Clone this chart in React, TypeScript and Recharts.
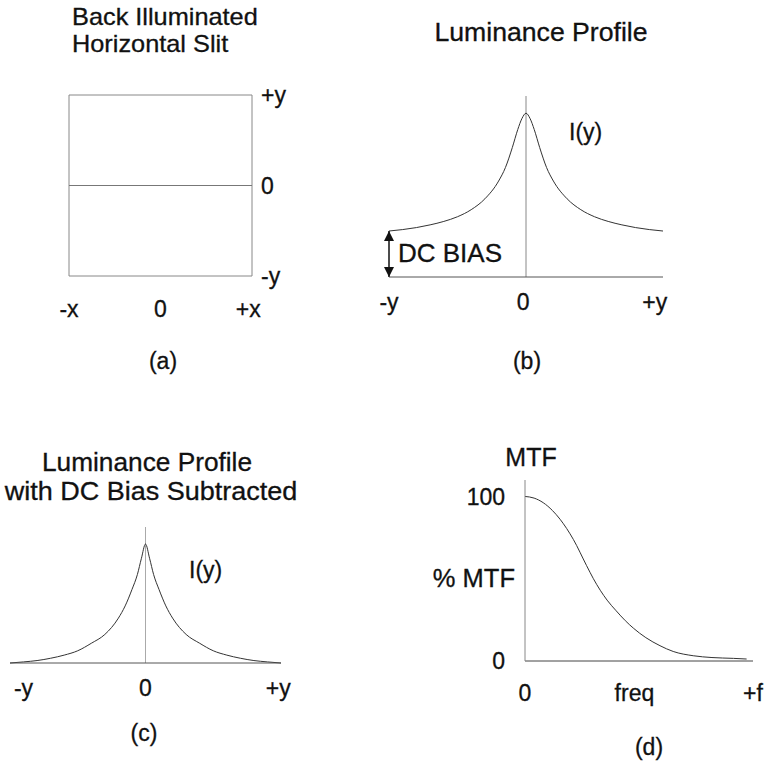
import React from 'react';
import {
  LineChart, Line, XAxis, YAxis, ReferenceLine, ReferenceArea, ReferenceDot,
} from 'recharts';

// ---------- data ----------
// (a) horizontal slit
const slitX = [-1, 1];
const slitY = [0, 0];
const aXTicks = [-1, 0, 0.96];
const aXLabels = ['-x', '0', '+x'];
const aYTicks = [-1, 0, 1];
const aYLabels = ['-y', '0', '+y'];

// (b) luminance profile with DC bias
const bX = [-1, -0.9, -0.8, -0.7, -0.6, -0.5, -0.4, -0.3, -0.2, -0.15, -0.1, -0.06, -0.03, 0,
  0.03, 0.06, 0.1, 0.15, 0.2, 0.3, 0.4, 0.5, 0.6, 0.7, 0.8, 0.9, 1];
const bY = [0.254, 0.262, 0.273, 0.288, 0.307, 0.333, 0.372, 0.432, 0.53, 0.605, 0.715, 0.815, 0.875, 0.905,
  0.875, 0.815, 0.715, 0.605, 0.53, 0.432, 0.372, 0.333, 0.307, 0.288, 0.273, 0.262, 0.254];
const dcBias = 0.254;
const bTicks = [-1, -0.02, 0.94];
const bLabels = ['-y', '0', '+y'];

// (c) luminance profile with DC bias subtracted
const cX = bX;
const cY = [0, 0.008, 0.018, 0.035, 0.058, 0.09, 0.145, 0.21, 0.33, 0.42, 0.54, 0.65, 0.77, 0.875,
  0.77, 0.65, 0.54, 0.42, 0.33, 0.21, 0.145, 0.09, 0.058, 0.035, 0.018, 0.008, 0];
const cTicks = [-0.9, 0, 0.98];
const cLabels = ['-y', '0', '+y'];

// (d) MTF
const dX = [0, 0.04, 0.08, 0.12, 0.154, 0.212, 0.27, 0.3, 0.33, 0.36, 0.4, 0.44, 0.475, 0.53, 0.592, 0.65, 0.738, 0.82, 0.914, 0.972];
const dY = [100, 99, 96.2, 91.5, 86.1, 73.9, 58, 50, 43, 37, 30.5, 24.5, 20, 14.2, 9.3, 5.8, 3.2, 2.1, 1.6, 1.2];
const dXTicks = [0, 0.48, 1];
const dXLabels = ['0', 'freq', '+f'];
const dYTicks = [0, 100];

// ---------- helpers ----------
const FONT = '"Liberation Sans", Arial, Helvetica, sans-serif';
const zip = (xs: number[], ys: number[]) => xs.map((x, i) => ({ x, y: ys[i] }));
const fmt = (ticks: number[], labels: string[]) => (v: number) => {
  const i = ticks.indexOf(v);
  return i >= 0 ? labels[i] : '';
};
const tickStyle = { fontSize: 23, fill: '#111', fontFamily: FONT, stroke: '#111', strokeWidth: 0.3 };

type TxtProps = { x: number; y: number; text: string; size?: number; sx?: number; anchor?: 'start' | 'middle' | 'end' };
const Txt = ({ x, y, text, size = 25, sx = 1, anchor = 'middle' }: TxtProps) => {
  const tx = anchor === 'start' ? '0' : anchor === 'end' ? '-100%' : '-50%';
  const origin = anchor === 'start' ? 'left center' : anchor === 'end' ? 'right center' : 'center center';
  return (
    <div
      style={{
        position: 'absolute', left: x, top: y, transform: `translate(${tx}, -50%) scaleX(${sx})`,
        transformOrigin: origin,
        fontSize: size, lineHeight: 0.92, whiteSpace: 'nowrap', color: '#111', fontFamily: FONT,
        WebkitTextStroke: '0.3px #111',
      }}
    >
      {text}
    </div>
  );
};

const ArrowUp = (p: any) => (
  <polygon points={`${p.cx},${p.cy} ${p.cx - 5},${p.cy + 10} ${p.cx + 5},${p.cy + 10}`} fill="#111" />
);
const ArrowDown = (p: any) => (
  <polygon points={`${p.cx},${p.cy} ${p.cx - 5},${p.cy - 10} ${p.cx + 5},${p.cy - 10}`} fill="#111" />
);

export default function App() {
  const slitData = zip(slitX, slitY);
  const bData = zip(bX, bY);
  const cData = zip(cX, cY);
  const dData = zip(dX, dY);

  return (
    <div style={{ position: 'absolute', left: 0, top: 0, width: 768, height: 763, background: '#fff', fontFamily: FONT }}>
      {/* (a) */}
      <div style={{ position: 'absolute', left: 0, top: 0 }}>
        <LineChart width={340} height={340} data={slitData} margin={{ top: 95, left: 69, right: 38, bottom: 24 }}>
          <XAxis type="number" dataKey="x" domain={[-1, 1]} ticks={aXTicks} tickFormatter={fmt(aXTicks, aXLabels)}
            height={40} axisLine={false} tickLine={false} tickSize={0} tickMargin={25} tick={tickStyle} interval={0} />
          <YAxis type="number" orientation="right" domain={[-1, 1]} ticks={aYTicks} tickFormatter={fmt(aYTicks, aYLabels)}
            width={50} axisLine={false} tickLine={false} tickSize={0} tickMargin={9} tick={tickStyle} interval={0} />
          <ReferenceArea x1={-1} x2={1} y1={-1} y2={1} fill="none" stroke="#888" strokeWidth={1} />
          <Line dataKey="y" stroke="#777" strokeWidth={1} dot={false} activeDot={false} isAnimationActive={false} />
        </LineChart>
      </div>

      {/* (b) */}
      <div style={{ position: 'absolute', left: 360, top: 0 }}>
        <LineChart width={408} height={340} data={bData} margin={{ top: 96, left: 29, right: 105, bottom: 23 }}>
          <XAxis type="number" dataKey="x" domain={[-1, 1]} ticks={bTicks} tickFormatter={fmt(bTicks, bLabels)}
            height={40} axisLine={{ stroke: '#555' }} tickLine={false} tickSize={0} tickMargin={17} tick={tickStyle} interval={0} />
          <YAxis type="number" domain={[0, 1]} hide />
          <ReferenceLine x={0} stroke="#888" />
          <ReferenceLine segment={[{ x: -1, y: 0 }, { x: -1, y: dcBias }]} stroke="#111" strokeWidth={1.5} />
          <ReferenceDot x={-1} y={dcBias} shape={ArrowUp} />
          <ReferenceDot x={-1} y={0} shape={ArrowDown} />
          <Line type="monotone" dataKey="y" stroke="#333" strokeWidth={1} dot={false} activeDot={false} isAnimationActive={false} />
        </LineChart>
      </div>

      {/* (c) */}
      <div style={{ position: 'absolute', left: 0, top: 380 }}>
        <LineChart width={340} height={340} data={cData} margin={{ top: 147, left: 10, right: 59, bottom: 17 }}>
          <XAxis type="number" dataKey="x" domain={[-1, 1]} ticks={cTicks} tickFormatter={fmt(cTicks, cLabels)}
            height={40} axisLine={{ stroke: '#555' }} tickLine={false} tickSize={0} tickMargin={17} tick={tickStyle} interval={0} />
          <YAxis type="number" domain={[0, 1]} hide />
          <ReferenceLine x={0} stroke="#aaa" />
          <Line type="monotone" dataKey="y" stroke="#333" strokeWidth={1} dot={false} activeDot={false} isAnimationActive={false} />
        </LineChart>
      </div>

      {/* (d) */}
      <div style={{ position: 'absolute', left: 380, top: 380 }}>
        <LineChart width={388} height={340} data={dData} margin={{ top: 100, left: 85, right: 15, bottom: 19 }}>
          <XAxis type="number" dataKey="x" domain={[0, 1]} ticks={dXTicks} tickFormatter={fmt(dXTicks, dXLabels)}
            height={40} axisLine={{ stroke: '#444' }} tickLine={false} tickSize={0} tickMargin={24} tick={tickStyle} interval={0} />
          <YAxis type="number" domain={[0, 110]} ticks={dYTicks} width={60}
            axisLine={{ stroke: '#888' }} tickLine={false} tickSize={0} tickMargin={20} tick={tickStyle} interval={0} />
          <Line type="monotone" dataKey="y" stroke="#333" strokeWidth={1} dot={false} activeDot={false} isAnimationActive={false} />
        </LineChart>
      </div>

      {/* titles & annotations */}
      <Txt x={72} y={16.5} text="Back Illuminated" size={24} anchor="start" sx={1.055} />
      <Txt x={72} y={43.5} text="Horizontal Slit" size={24} anchor="start" sx={1.055} />
      <Txt x={163} y={362} text="(a)" size={23} />

      <Txt x={541} y={32} text="Luminance Profile" sx={1.065} />
      <Txt x={569} y={133} text="I(y)" size={23} anchor="start" />
      <Txt x={398} y={253} text="DC BIAS" anchor="start" sx={1.04} />
      <Txt x={527} y={362} text="(b)" size={23} />

      <Txt x={147} y={462} text="Luminance Profile" sx={1.05} />
      <Txt x={151} y={491} text="with DC Bias Subtracted" sx={1.08} />
      <Txt x={189} y={571} text="I(y)" size={23} anchor="start" />
      <Txt x={144} y={734} text="(c)" size={23} />

      <Txt x={531} y={457} text="MTF" />
      <Txt x={515} y={578} text="% MTF" anchor="end" sx={1.02} />
      <Txt x={649} y={748} text="(d)" size={23} />
    </div>
  );
}
